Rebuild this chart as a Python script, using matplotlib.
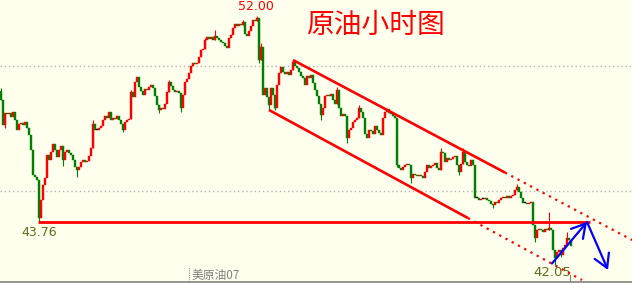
import numpy as np
import matplotlib
matplotlib.use("Agg")
import matplotlib.pyplot as plt

plt.rcParams['font.family'] = ['Noto Sans CJK SC', 'DejaVu Sans']

# hourly closes, crude oil
closes = [
    48.64, 47.64, 48.12, 48.08, 48.12, 47.96, 48.16, 47.84, 47.44, 47.68,
    47.72, 47.64, 47.76, 47.52, 47.24, 46.64, 45.64, 45.56, 45.44, 43.92,
    44.64, 45.24, 45.52, 46.44, 46.24, 46.56, 46.88, 46.64, 46.36, 46.64,
    46.80, 46.24, 46.56, 46.64, 46.52, 46.44, 46.24, 45.96, 45.84, 45.96,
    46.16, 46.24, 46.16, 46.20, 46.40, 46.72, 47.68, 47.44, 47.44, 47.52,
    47.60, 47.84, 48.00, 47.92, 48.16, 47.84, 47.92, 47.88, 48.00, 47.84,
    47.68, 47.44, 47.76, 47.84, 47.88, 48.96, 48.76, 49.36, 49.56, 49.16,
    49.00, 48.84, 49.08, 49.04, 49.16, 49.24, 49.12, 48.80, 48.44, 48.24,
    48.32, 48.28, 48.48, 48.96, 49.36, 49.20, 49.04, 48.96, 49.00, 48.92,
    48.32, 48.84, 49.36, 49.48, 49.72, 50.00, 50.12, 50.08, 50.12, 50.36,
    50.64, 50.68, 51.04, 51.16, 51.08, 51.16, 51.04, 51.20, 51.12, 51.04,
    50.96, 50.92, 50.80, 50.72, 51.12, 51.24, 51.52, 51.68, 51.60, 51.68,
    51.64, 51.76, 51.28, 51.20, 51.40, 51.60, 51.84, 51.80, 51.92, 50.24,
    50.76, 48.84, 49.12, 48.76, 48.44, 49.12, 48.84, 48.32, 49.24, 49.72,
    49.96, 49.76, 49.68, 49.76, 49.64, 49.84, 50.16, 50.00, 49.92, 49.76,
    49.60, 49.52, 49.24, 49.60, 49.52, 49.64, 49.32, 49.04, 48.80, 48.48,
    48.04, 48.32, 48.80, 48.84, 48.80, 48.88, 48.64, 48.48, 49.04, 48.32,
    48.00, 48.08, 48.00, 47.12, 47.44, 47.52, 47.76, 47.84, 47.92, 48.32,
    48.16, 47.92, 47.28, 47.12, 47.44, 47.40, 47.28, 47.60, 47.44, 47.32,
    47.24, 47.92, 48.16, 48.28, 48.12, 48.08, 48.00, 47.92, 46.04, 45.92,
    45.84, 45.96, 46.04, 46.08, 46.04, 45.52, 45.68, 45.64, 45.60, 45.64,
    45.60, 45.52, 45.76, 46.04, 45.92, 46.00, 46.04, 46.12, 45.92, 45.84,
    46.56, 46.52, 46.16, 46.32, 46.24, 46.28, 46.36, 46.40, 46.04, 45.76,
    46.08, 46.56, 46.16, 46.04, 46.00, 46.24, 46.04, 44.72, 44.72, 44.64,
    44.68, 44.68, 44.72, 44.64, 44.60, 44.48, 44.44, 44.56, 44.52, 44.64,
    44.72, 44.76, 44.72, 44.80, 44.72, 44.80, 44.84, 45.04, 45.16, 44.96,
    44.72, 44.52, 44.52, 44.48, 44.52, 44.56, 43.64, 43.12, 43.44, 43.48,
    43.44, 43.36, 43.48, 43.44, 43.52, 43.44, 42.64, 42.32, 42.56, 42.64,
    42.44, 42.72, 42.84, 43.12, 43.04, 42.80,
]
first_open = 49.00

# wick extremes that reach past the body
highs = {0: 49.12, 46: 47.84, 65: 49.04, 84: 49.44, 102: 51.12, 107: 51.44,
         121: 51.84, 128: 52.00, 130: 50.92, 146: 50.24, 168: 49.16,
         179: 48.44, 220: 46.72, 231: 46.72, 258: 45.28, 274: 44.16,
         283: 43.36}
lows = {2: 47.52, 19: 43.76, 31: 46.00, 38: 45.56, 61: 47.36, 79: 48.12,
        90: 48.16, 129: 50.12, 134: 48.24, 137: 48.24, 160: 47.84,
        173: 46.92, 198: 45.96, 205: 45.32, 229: 45.64, 246: 44.32,
        267: 42.96, 277: 42.05, 280: 42.36}

support = 43.76
grid_levels = [50, 45]
title = "原油小时图"
symbol = "美原油07"

closes = np.array(closes)
opens = np.concatenate([[first_open], closes[:-1]])
n = len(closes)
idx = np.arange(n)

fig = plt.figure(figsize=(6.32, 2.83), dpi=100)
bg = "#ffffee"
fig.patch.set_facecolor(bg)
ax = fig.add_axes([0, 1 / 283, 1, 282 / 283])
ax.set_facecolor(bg)
ax.set_xlim(-0.5, 315.5)
ax.set_ylim(41.36, 52.64)

for y in grid_levels:
    ax.axhline(y, color="#b4b4b4", lw=1, ls=(0, (1, 2)), zorder=0)

for i in idx:
    o, c = opens[i], closes[i]
    if c > o:
        col = "#ff0000"
    elif c < o:
        col = "#008000"
    else:
        col = "#000000"
    top = max(o, c)
    bot = min(o, c)
    hi = max(highs.get(i, top), top)
    lo = min(lows.get(i, bot), bot)
    if hi > top or lo < bot:
        ax.vlines(i, lo, hi, color=col, lw=0.8, zorder=2)
    h = max(top - bot, 0.03)
    ax.bar(i, h, bottom=bot, width=0.9, color=col, edgecolor=col,
           linewidth=0.3, zorder=3)

# trend channel
def line_at(p0, p1, x):
    return p0[1] + (p1[1] - p0[1]) * (x - p0[0]) / (p1[0] - p0[0])

up0, up1 = (146, 50.24), (315.5, 43.04)
lo0, lo1 = (134, 48.24), (290.5, 41.44)
ax.plot([up0[0], 252], [up0[1], line_at(up0, up1, 252)],
        color="#ff0000", lw=1.9, zorder=4, solid_capstyle="butt")
ax.plot([252, up1[0]], [line_at(up0, up1, 252), up1[1]],
        color="#ff0000", lw=1.6, ls=(0, (1, 2.2)), zorder=4)
ax.plot([lo0[0], 233.5], [lo0[1], line_at(lo0, lo1, 233.5)],
        color="#ff0000", lw=1.9, zorder=4, solid_capstyle="butt")
ax.plot([233.5, lo1[0]], [line_at(lo0, lo1, 233.5), lo1[1]],
        color="#ff0000", lw=1.6, ls=(0, (1, 2.2)), zorder=4)

ax.plot([18.5, 294.5], [support, support], color="#ff0000", lw=2.0,
        zorder=4, solid_capstyle="butt")

# expected path
arrow = dict(arrowstyle="->,head_length=0.6,head_width=0.35",
             color="#0000ff", lw=1.6, mutation_scale=16,
             shrinkA=0, shrinkB=0)
ax.annotate("", xy=(293, 43.76), xytext=(275.5, 42.10), arrowprops=arrow,
            zorder=5)
ax.annotate("", xy=(303.5, 41.84), xytext=(293, 43.76), arrowprops=arrow,
            zorder=5)

ax.text(187, 51.64, title, color="#ff0000", fontsize=20, fontweight="light",
        ha="center", va="center", family=["Noto Sans CJK SC"])
ax.text(127.5, 52.36, "52.00", color="#ff0000", fontsize=9,
        ha="center", va="center", family=["DejaVu Sans"])
ax.text(19, 43.36, "43.76", color="#5a7018", fontsize=9,
        ha="center", va="center", family=["DejaVu Sans"])
ax.text(275.5, 41.72, "42.05", color="#5a7018", fontsize=9.5,
        ha="center", va="center", family=["DejaVu Sans"])
ax.text(95.5, 41.64, symbol, color="#808080", fontsize=8.5,
        ha="left", va="center")

ax.plot([94, 94], [41.36, 41.96], color="#909090", lw=0.8, ls=(0, (1, 1)))
ax.plot([284.5, 284.5], [41.36, 41.64], color="#808080", lw=0.8)

for s in ["top", "left", "right"]:
    ax.spines[s].set_visible(False)
ax.spines["bottom"].set_color("#808080")
ax.spines["bottom"].set_linewidth(1.2)
ax.set_xticks([])
ax.set_yticks([])

fig.savefig("out.png", dpi=100, facecolor=bg)
